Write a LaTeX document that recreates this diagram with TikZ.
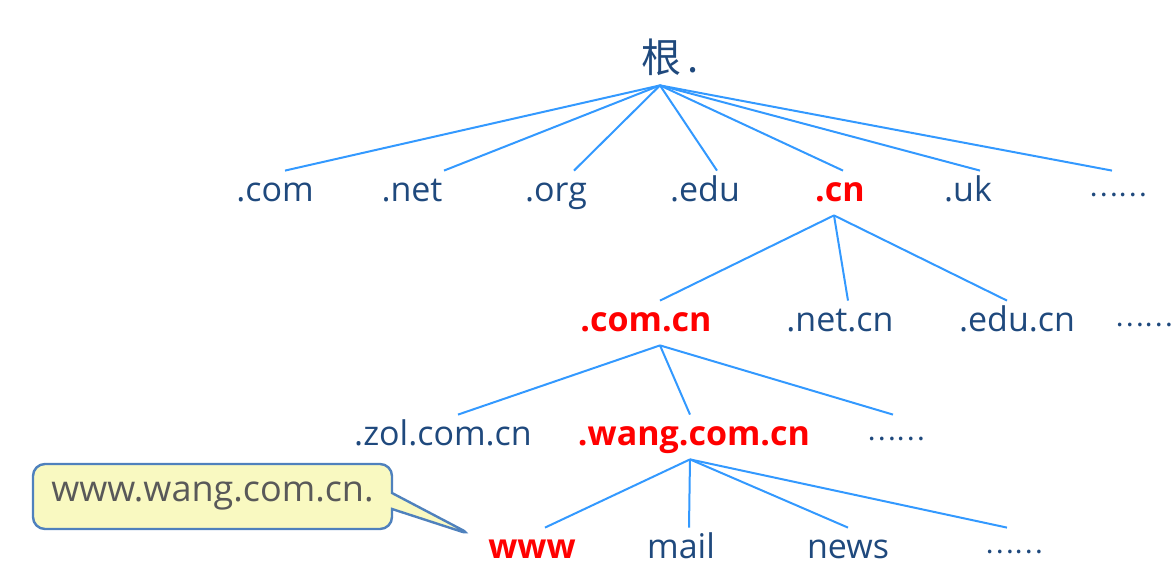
\documentclass[tikz,border=0pt]{standalone}
\usepackage{fontspec}
\setmainfont{Open Sans}
\newfontfamily\cjk{Noto Sans CJK SC}
\usetikzlibrary{shapes.callouts}
\definecolor{domblue}{HTML}{1F497D}
\definecolor{linkblue}{HTML}{3399FF}
\definecolor{notefill}{HTML}{F9F9C1}
\definecolor{noteline}{HTML}{4F81BD}
\definecolor{notetext}{HTML}{595959}
\newcommand{\etc}{\raisebox{2.5pt}{……}}

\begin{document}
\begin{tikzpicture}[
  x=0.5pt, y=-0.5pt,
  dom/.style={text=domblue, font=\fontsize{17}{20}\selectfont, inner sep=0pt, text height=15.5pt, text depth=6.5pt},
  hit/.style={dom, text=red, font=\fontsize{17}{20}\selectfont\bfseries},
  more/.style={dom, font=\cjk\fontsize{13.5}{16}\selectfont},
  link/.style={linkblue, line width=1pt},
  note/.style={rectangle callout, draw=noteline, fill=notefill, line width=1.2pt, rounded corners=6pt, text=notetext, font=\fontsize{18}{21}\selectfont, minimum width=179.5pt, minimum height=32.5pt, callout pointer width=8pt}
]
\useasboundingbox (0,0) rectangle (1175,577);

% root
\node[dom, font=\cjk\fontsize{20}{24}\selectfont, text height=18pt, text depth=6pt] (root) at (670,61) {根\,.};

% top level domains
\node[dom] (com) at (275,193) {.com};
\node[dom] (net) at (412,193) {.net};
\node[dom] (org) at (556,193) {.org};
\node[dom] (edu) at (705,193) {.edu};
\node[hit] (cn) at (840,193) {.cn};
\node[dom] (uk) at (968,193) {.uk};
\node[more] (more1) at (1118,193) {\etc};

% second level under .cn
\node[hit] (comcn) at (646,323) {.com.cn};
\node[dom] (netcn) at (840,323) {.net.cn};
\node[dom] (educn) at (1017,323) {.edu.cn};
\node[more] (more2) at (1144,323) {\etc};

% third level under .com.cn
\node[dom] (zol) at (443,437) {.zol.com.cn};
\node[hit] (wang) at (694,437) {.wang.com.cn};
\node[more] (more3) at (896,437) {\etc};

% hosts under .wang.com.cn
\node[hit] (www) at (532,550) {www};
\node[dom] (mail) at (681,550) {mail};
\node[dom] (news) at (848,550) {news};
\node[more] (more4) at (1014,550) {\etc};

% callout
\node[note, callout absolute pointer={([shift={(-16,-15)}]www.west)}] (fqdn) at (212.5,496.5) {www.wang.com.cn.};

% links - root
\draw[link] ([xshift=-5pt]root.south) -- ([xshift=5pt]com.north);
\draw[link] ([xshift=-5pt]root.south) -- ([xshift=16pt]net.north);
\draw[link] ([xshift=-5pt]root.south) -- ([xshift=9pt]org.north);
\draw[link] ([xshift=-5pt]root.south) -- ([xshift=6pt]edu.north);
\draw[link] ([xshift=-5pt]root.south) -- ([xshift=1.5pt]cn.north);
\draw[link] ([xshift=-5pt]root.south) -- ([xshift=6pt]uk.north);
\draw[link] ([xshift=-5pt]root.south) -- ([xshift=-3pt]more1.north);

% links - .cn
\draw[link] ([xshift=-3pt]cn.south) -- ([xshift=7pt]comcn.north);
\draw[link] ([xshift=-3pt]cn.south) -- ([xshift=4pt]netcn.north);
\draw[link] ([xshift=-3pt]cn.south) -- ([xshift=-5pt]educn.north);

% links - .com.cn
\draw[link] ([xshift=7pt]comcn.south) -- ([xshift=7.5pt]zol.north);
\draw[link] ([xshift=7pt]comcn.south) -- ([xshift=-2pt]wang.north);
\draw[link] ([xshift=7pt]comcn.south) -- ([xshift=-1.5pt]more3.north);

% links - .wang.com.cn
\draw[link] ([xshift=-2pt]wang.south) -- ([xshift=6.5pt]www.north);
\draw[link] ([xshift=-2pt]wang.south) -- ([xshift=4pt]mail.north);
\draw[link] ([xshift=-2pt]wang.south) -- (news.north);
\draw[link] ([xshift=-2pt]wang.south) -- ([xshift=-3.5pt]more4.north);

\end{tikzpicture}
\end{document}
